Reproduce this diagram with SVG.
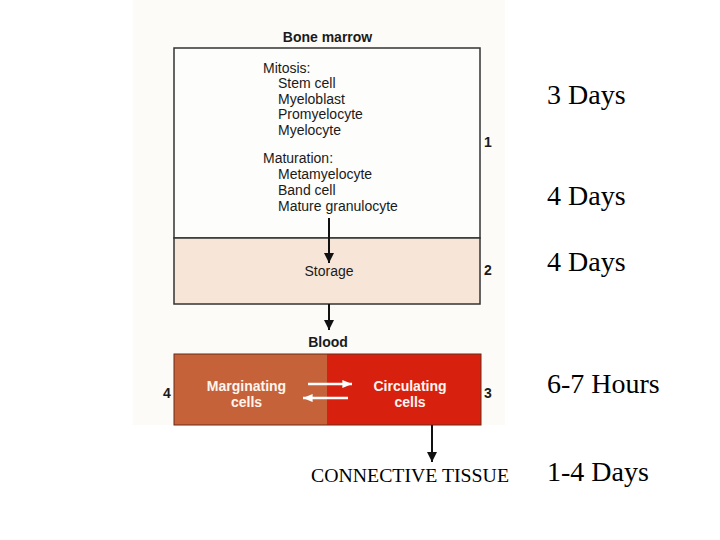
<svg xmlns="http://www.w3.org/2000/svg" width="720" height="540" viewBox="0 0 720 540">
<defs>
<marker id="ah" viewBox="0 0 10 10" refX="10" refY="5" markerWidth="10" markerHeight="10" markerUnits="userSpaceOnUse" orient="auto"><path d="M0,0 L10,5 L0,10 z" fill="#111"/></marker>
<marker id="wh" viewBox="0 0 12 10" refX="12" refY="5" markerWidth="12" markerHeight="8" markerUnits="userSpaceOnUse" orient="auto"><path d="M0,0 L12,5 L0,10 z" fill="#fff"/></marker>
</defs>
<style>
.s{font-family:"Liberation Sans",Arial,sans-serif;font-size:14px;fill:#1a1a1a}
.b{font-weight:bold}
.w{fill:#fff5ee;font-weight:bold;text-anchor:middle}
.c{text-anchor:middle}
.t{font-family:"Liberation Serif","Times New Roman",serif;fill:#000}
.box{stroke:#333;stroke-width:1.5}
.ln{stroke:#111;stroke-width:2;fill:none}
.wl{stroke:#fff;stroke-width:2.5;fill:none}
</style>
<rect width="720" height="540" fill="#fff"/>
<rect x="133" y="0" width="372" height="425" fill="#fcfbf8"/>
<g id="bone-marrow">
<text class="s b c" x="327.5" y="42">Bone marrow</text>
<rect class="box" x="174" y="48" width="306" height="190" fill="#fdfdfb"/>
<text class="s" x="263" y="73">Mitosis:</text>
<text class="s" x="278" y="88">Stem cell</text>
<text class="s" x="278" y="104">Myeloblast</text>
<text class="s" x="278" y="119">Promyelocyte</text>
<text class="s" x="278" y="135">Myelocyte</text>
<text class="s" x="263" y="163">Maturation:</text>
<text class="s" x="278" y="179">Metamyelocyte</text>
<text class="s" x="278" y="195">Band cell</text>
<text class="s" x="278" y="211">Mature granulocyte</text>
<text class="s b" x="484" y="147">1</text>
</g>
<g id="storage">
<rect class="box" x="174" y="238" width="306" height="66" fill="#f7e6d8"/>
<text class="s c" x="329" y="276">Storage</text>
<text class="s b" x="484" y="275">2</text>
</g>
<g id="blood">
<text class="s b c" x="328" y="347">Blood</text>
<rect x="174" y="354" width="153" height="71" fill="#c5623a"/>
<rect x="327" y="354" width="154" height="71" fill="#d8200f"/>
<rect x="174" y="354" width="307" height="71" fill="none" stroke="#6b2a15" stroke-width="1"/>
<text class="s w" x="246.5" y="391">Marginating</text>
<text class="s w" x="246.5" y="407">cells</text>
<text class="s w" x="410" y="391">Circulating</text>
<text class="s w" x="410" y="407">cells</text>
<text class="s b" x="163" y="398">4</text>
<text class="s b" x="484" y="398">3</text>
</g>
<g id="connective-tissue">
<text class="t" x="410" y="482" font-size="19" text-anchor="middle" textLength="198" lengthAdjust="spacingAndGlyphs">CONNECTIVE TISSUE</text>
</g>
<g id="durations" class="t" font-size="28">
<text x="547" y="104">3 Days</text>
<text x="547" y="205">4 Days</text>
<text x="547" y="271">4 Days</text>
<text x="547" y="393">6-7 Hours</text>
<text x="547" y="481">1-4 Days</text>
</g>
<g id="connectors">
<line class="ln" x1="329" y1="218" x2="329" y2="263" marker-end="url(#ah)"/>
<line class="ln" x1="329" y1="304" x2="329" y2="330" marker-end="url(#ah)"/>
<line class="ln" x1="432" y1="425" x2="432" y2="462" marker-end="url(#ah)"/>
<line class="wl" x1="308" y1="384" x2="352" y2="384" marker-end="url(#wh)"/>
<line class="wl" x1="348" y1="398" x2="303" y2="398" marker-end="url(#wh)"/>
</g>
</svg>
